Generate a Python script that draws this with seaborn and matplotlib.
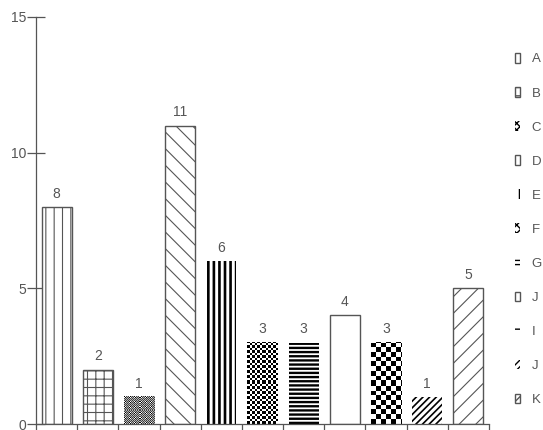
import numpy as np
import pandas as pd
import matplotlib
matplotlib.use("Agg")
import matplotlib.pyplot as plt
import seaborn as sns
from matplotlib.patches import Patch

# ---- data ----
labels = ["A", "B", "C", "D", "E", "F", "G", "J", "I", "J", "K"]
values = [8, 2, 1, 11, 6, 3, 3, 4, 3, 1, 5]
keys = [f"c{i:02d}" for i in range(len(values))]

# ---- styles (per bar) ----
GREY = "#555555"
styles = [
    dict(hatch="||", ec=GREY, lw=1.0, hlw=0.8),          # A
    dict(hatch="++", ec=GREY, lw=1.0, hlw=0.8),          # B
    dict(img="dots", lhatch="xxxxx"),                    # C
    dict(hatch="\\\\", ec=GREY, lw=1.0, hlw=0.8),        # D
    dict(hatch="|||", ec="black", lw=0.0, hlw=1.9),      # E
    dict(img="check", cell=2.5, lhatch="xxxx"),          # F
    dict(hatch="----", ec="black", lw=0.0, hlw=1.7),     # G
    dict(hatch="", ec=GREY, lw=1.0, hlw=0.8),            # J (empty)
    dict(img="check", cell=4.7, lhatch="++"),            # I
    dict(hatch="/////", ec="black", lw=0.0, hlw=1.2),    # J
    dict(hatch="//", ec=GREY, lw=1.0, hlw=0.8),          # K
]

sns.set_theme(style="white")
plt.rcParams["font.family"] = ["Liberation Sans", "DejaVu Sans"]

W, H = 543, 430
fig = plt.figure(figsize=(W / 100, H / 100), dpi=100)
ax = fig.add_axes([36 / W, (H - 424) / H, (489 - 36) / W, (424 - 17) / H])

df = pd.DataFrame({"key": keys, "value": values})
sns.barplot(data=df, x="key", y="value", color="white", saturation=1,
            width=0.73, ax=ax, errorbar=None)

ax.set_xlim(-0.5, len(values) - 0.5)
ax.set_ylim(0, 15)


def set_hlw(p, lw):
    if hasattr(p, "set_hatch_linewidth"):
        p.set_hatch_linewidth(lw)
    else:
        p._hatch_linewidth = lw


patches = list(ax.patches)
for p, st in zip(patches, styles):
    p.set_facecolor("white")
    if "img" in st:
        p.set_edgecolor("none")
        p.set_linewidth(0)
    else:
        p.set_edgecolor(st["ec"])
        p.set_linewidth(st["lw"])
        p.set_hatch(st["hatch"])
        set_hlw(p, st["hlw"])

fig.canvas.draw()
for p, st in zip(patches, styles):
    if "img" not in st:
        continue
    bb = p.get_window_extent()
    wpx, hpx = max(int(round(bb.width)), 1), max(int(round(bb.height)), 1)
    yy, xx = np.mgrid[0:hpx, 0:wpx]
    if st["img"] == "check":
        c = st["cell"]
        arr = ((np.floor(xx / c) + np.floor(yy / c)) % 2).astype(float)
    else:
        arr = 0.25 + 0.45 * ((xx + yy) % 2)
        m = (xx % 5 < 2) & (yy % 5 < 2)
        arr[m] = ((xx + yy) % 2)[m].astype(float)
    x0, y0 = p.get_x(), p.get_y()
    ax.imshow(arr, extent=(x0, x0 + p.get_width(), y0, y0 + p.get_height()),
              origin="lower", cmap="gray", vmin=0, vmax=1, aspect="auto",
              interpolation="nearest", zorder=p.get_zorder() + 0.1,
              clip_path=p)

ax.set_xlim(-0.5, len(values) - 0.5)
ax.set_ylim(0, 15)

ax.bar_label(ax.containers[0], labels=[str(v) for v in values], padding=4.5,
             fontsize=10, color=GREY)

# axes styling
for s in ["top", "right"]:
    ax.spines[s].set_visible(False)
for s in ["left", "bottom"]:
    ax.spines[s].set_color(GREY)
    ax.spines[s].set_linewidth(0.9)
ax.set_xlabel("")
ax.set_ylabel("")
ax.set_yticks([0, 5, 10, 15])
ax.set_xticks(np.arange(-0.5, len(values), 1.0))
ax.set_xticklabels([""] * len(np.arange(-0.5, len(values), 1.0)))
ax.tick_params(axis="y", left=True, direction="inout", length=12.5, width=0.9,
               color=GREY, labelsize=10, labelcolor=GREY, pad=1)
ax.tick_params(axis="x", bottom=True, direction="out", length=4.5, width=0.9,
               color=GREY, labelbottom=False)
ax.patch.set_alpha(0)

# legend
handles = []
for st in styles:
    if "img" in st:
        handles.append(Patch(facecolor="white", edgecolor="black", linewidth=0,
                             hatch=st["lhatch"]))
    else:
        h = Patch(facecolor="white", edgecolor=st["ec"], linewidth=st["lw"],
                  hatch=st["hatch"])
        set_hlw(h, st["hlw"])
        handles.append(h)
fig.legend(handles, labels, loc="upper left", bbox_to_anchor=(515 / W, 1 - 53 / H),
           frameon=False, fontsize=9.5, labelcolor=GREY, handlelength=0.35,
           handleheight=0.75, handletextpad=0.9, labelspacing=1.64,
           borderpad=0, borderaxespad=0)

fig.savefig("out.png", dpi=100)
